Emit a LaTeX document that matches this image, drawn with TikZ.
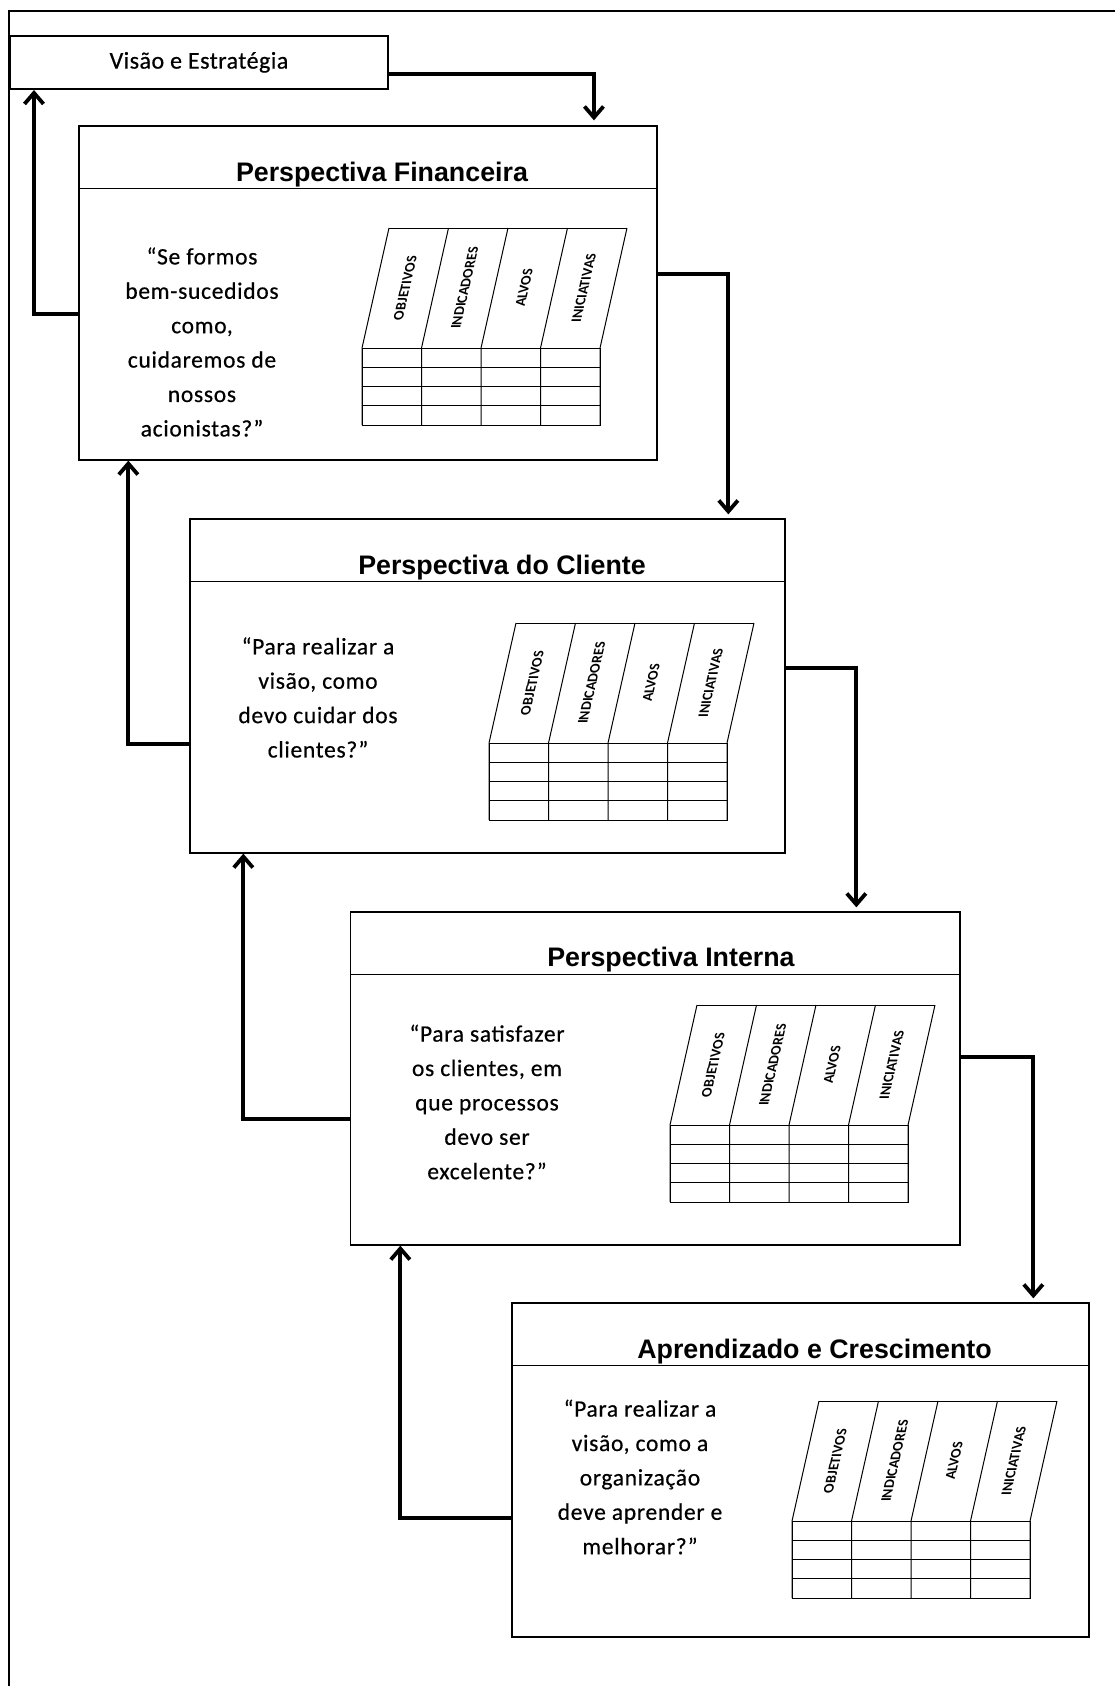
\documentclass[tikz,border=0pt]{standalone}
\usepackage{fontspec}
\newfontfamily\calib{Carlito}
\newfontfamily\calibq{Carlito}[LetterSpace=3,FakeBold=0.5]
\newfontfamily\calibv{Carlito}[LetterSpace=2,FakeBold=0.6]
\newfontfamily\arialf{Liberation Sans}
\usetikzlibrary{arrows.meta,calc}
\tikzset{
 panel/.style={draw, line width=1.3pt, rectangle, inner sep=0pt},
 hdrline/.style={line width=1.3pt},
 visbox/.style={draw, line width=2pt, rectangle, inner sep=0pt, font=\calibv\fontsize{24}{28}\selectfont},
 ptitle/.style={anchor=base, inner sep=0pt, font=\arialf\bfseries\fontsize{26.8}{30}\selectfont},
 quote/.style={align=center, inner sep=0pt, font=\calibq\fontsize{23.5}{34.4}\selectfont},
 conn/.style={line width=3.8pt, -{Straight Barb[length=11pt,width=19pt]}},
 tbl/.style={line width=1pt},
 collbl/.style={inner sep=0pt, font=\calib\bfseries\fontsize{14.5}{16}\selectfont, cm={0.22,0.976,-1,0,(0,0)}},
 framestyle/.style={line width=2pt}
}
\newcommand\bsctab[3]{%
\begin{scope}[shift={(#1,#2)}]
 \draw[tbl] (0,0) rectangle (238,-77);
 \foreach \r in {1,2,3} {\draw[tbl] (0,{-19.25*\r}) -- (238,{-19.25*\r});}
 \foreach \c in {0,...,4} {\draw[tbl] ({59.5*\c},0) -- ({59.5*\c},-77) -- ({59.5*\c+27},-197);}
 \draw[tbl] (27,-197) -- (265,-197);
 \foreach \c/\t in {0/OBJETIVOS,1/INDICADORES,2/ALVOS,3/INICIATIVAS} {\node[collbl] (#3\c) at ({59.5*\c+43.25},-137) {\t};}
\end{scope}}
\begin{document}
\begin{tikzpicture}[x=1pt,y=-1pt]
\useasboundingbox (0,0) rectangle (1115,1686);
\draw[framestyle] (9,1720) -- (9,11) -- (1140,11);

\node[visbox, minimum width=378pt, minimum height=53.3pt] (vis) at (199,62.4) {Visão e Estratégia};

\node[panel, minimum width=578pt, minimum height=334pt] (fin) at (368,293) {};
\node[panel, minimum width=595pt, minimum height=334pt] (cli) at (487.5,686) {};
\node[panel, minimum width=609.5pt, minimum height=333pt] (int) at (655.25,1078.5) {};
\node[panel, minimum width=577pt, minimum height=334pt] (apr) at (800.5,1470) {};

\foreach \b in {fin,cli,int,apr} {\draw[hdrline] ([yshift=-63pt]\b.north west) -- ([yshift=-63pt]\b.north east);}

\node[ptitle] (tfin) at (382,181.5) {Perspectiva Financeira};
\node[ptitle] (tcli) at (502,574.5) {Perspectiva do Cliente};
\node[ptitle] (tint) at (671,966.5) {Perspectiva Interna};
\node[ptitle] (tapr) at (814.5,1358.5) {Aprendizado e Crescimento};

\node[quote] (qfin) at (202,342) {“Se formos\\bem-sucedidos\\como,\\cuidaremos de\\nossos\\acionistas?”};
\node[quote] (qcli) at (318,697.5) {“Para realizar a\\visão, como\\devo cuidar dos\\clientes?”};
\node[quote] (qint) at (487,1102) {“Para satisfazer\\os clientes, em\\que processos\\devo ser\\excelente?”};
\node[quote] (qapr) at (640,1477) {“Para realizar a\\visão, como a\\organização\\deve aprender e\\melhorar?”};

\bsctab{362}{425}{lf}
\bsctab{489}{820}{lc}
\bsctab{670}{1202}{li}
\bsctab{792}{1598}{la}

\draw[conn] ([yshift=-11.7pt]vis.east) -| ([xshift=515.6pt,yshift=5pt]fin.north west);
\draw[conn] ([yshift=-189pt]fin.north west) -| ([xshift=25pt]vis.south west);
\draw[conn] ([yshift=-149pt]fin.north east) -| ([xshift=539pt,yshift=4pt]cli.north west);
\draw[conn] ([yshift=-226pt]cli.north west) -| ([xshift=50pt]fin.south west);
\draw[conn] ([yshift=-150pt]cli.north east) -| ([xshift=506.5pt,yshift=4pt]int.north west);
\draw[conn] ([yshift=-208pt]int.north west) -| ([xshift=54pt]cli.south west);
\draw[conn] ([yshift=-146pt]int.north east) -| ([xshift=522pt,yshift=4pt]apr.north west);
\draw[conn] ([yshift=-216pt]apr.north west) -| ([xshift=50.5pt]int.south west);
\end{tikzpicture}
\end{document}
